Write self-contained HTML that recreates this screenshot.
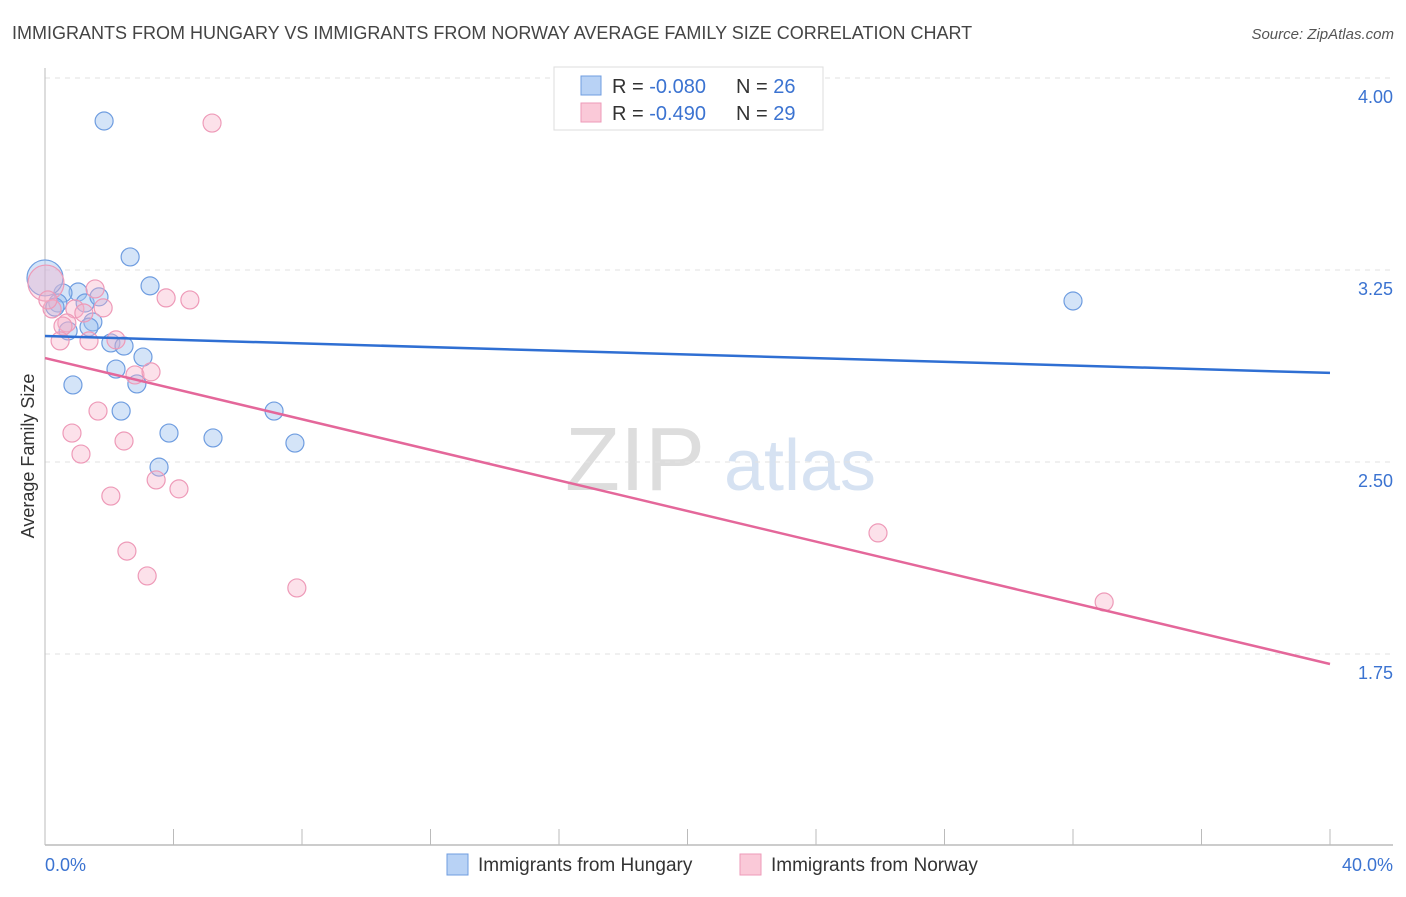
<!DOCTYPE html>
<html><head><meta charset="utf-8"><style>
body{margin:0;background:#fff;font-family:"Liberation Sans",sans-serif;}
svg text{font-family:"Liberation Sans",sans-serif;}
</style></head><body>
<svg id="chart" width="1406" height="892" xmlns="http://www.w3.org/2000/svg">
<text x="12" y="39" font-size="18" fill="#444">IMMIGRANTS FROM HUNGARY VS IMMIGRANTS FROM NORWAY AVERAGE FAMILY SIZE CORRELATION CHART</text>
<text x="1394" y="39" font-size="15" fill="#555" font-style="italic" text-anchor="end">Source: ZipAtlas.com</text>
<g>
<text x="635" y="490" font-size="90" fill="#ddd" font-family="Liberation Serif" text-anchor="middle">ZIP</text>
<text x="800" y="490" font-size="72" fill="#d6e2f2" text-anchor="middle">atlas</text>
</g>
<g id="grid"></g>
<g id="axes"></g>
<g id="marks"></g>
<text transform="translate(34,456) rotate(-90)" font-size="18" fill="#333" text-anchor="middle">Average Family Size</text>
<g>
<rect x="554" y="67" width="269" height="63" fill="#fff" stroke="#ddd"/>
<rect x="581" y="76" width="20" height="19" fill="#b8d2f5" stroke="#6f9de0"/>
<rect x="581" y="103" width="20" height="19" fill="#fac9d8" stroke="#ee9ab8"/>
<text x="612" y="93" font-size="20" fill="#333">R = <tspan fill="#3b73d1">-0.080</tspan><tspan x="736">N = </tspan><tspan fill="#3b73d1">26</tspan></text>
<text x="612" y="120" font-size="20" fill="#333">R = <tspan fill="#3b73d1">-0.490</tspan><tspan x="736">N = </tspan><tspan fill="#3b73d1">29</tspan></text>
</g>
<g>
<rect x="447" y="854" width="21" height="21" fill="#b8d2f5" stroke="#6f9de0"/>
<text x="478" y="871" font-size="19" fill="#333">Immigrants from Hungary</text>
<rect x="740" y="854" width="21" height="21" fill="#fac9d8" stroke="#ee9ab8"/>
<text x="771" y="871" font-size="19" fill="#333">Immigrants from Norway</text>
</g>
</svg>
<script>
const yTicks=[4.00,3.25,2.50,1.75];
const yTickLabels=["4.00","3.25","2.50","1.75"];
const xTickCount=10;
const xLabels=["0.0%","40.0%"];
const hungaryX=[1.84,2.65,3.27,1.03,0.56,0.40,1.25,1.68,0.31,1.49,1.37,0.72,2.05,2.46,3.05,2.21,2.86,0.87,2.37,7.13,3.86,5.23,7.78,3.55,32.0,0.0];
const hungaryY=[3.832,3.301,3.188,3.164,3.160,3.121,3.121,3.145,3.105,3.047,3.027,3.012,2.965,2.953,2.910,2.863,2.805,2.801,2.699,2.699,2.613,2.594,2.574,2.480,3.129,3.219];
const hungaryBig=[25];
const norwayX=[5.20,0.03,1.56,3.77,4.51,1.81,0.93,0.22,1.21,0.68,0.56,2.21,1.37,0.47,2.80,3.30,1.65,0.84,2.46,1.12,2.05,3.46,4.17,2.55,3.18,7.84,25.93,32.97,0.09];
const norwayY=[3.824,3.199,3.176,3.141,3.133,3.102,3.098,3.098,3.082,3.043,3.031,2.977,2.973,2.973,2.840,2.852,2.699,2.613,2.582,2.531,2.367,2.430,2.395,2.152,2.055,2.008,2.223,1.953,3.133];
const norwayBig=[1];
const hungaryTrend=[2.992,2.848];
const norwayTrend=[2.906,1.711];

const NS="http://www.w3.org/2000/svg";
const X=v=>45+(v/40)*1285;
const Y=v=>78+(4-v)*256;
function mk(tag,attrs,parent){const e=document.createElementNS(NS,tag);for(const k in attrs)e.setAttribute(k,attrs[k]);document.getElementById(parent).appendChild(e);return e;}
yTicks.forEach((t,i)=>{
 const l=mk('line',{x1:45,x2:1393,y1:Y(t),y2:Y(t),stroke:'#e2e2e2','stroke-dasharray':'5,5'},'grid');
 
 
 const tx=mk('text',{x:1393,y:Y(t)+25,'font-size':18,fill:'#3b73d1','text-anchor':'end'},'axes');
 tx.textContent=yTickLabels[i];
 
 
});
const ya=mk('line',{x1:45,x2:45,y1:68,y2:845,stroke:'#bbb'},'axes');


const xa=mk('line',{x1:45,x2:1393,y1:845,y2:845,stroke:'#bbb','stroke-width':1.5},'axes');


for(let i=0;i<=xTickCount;i++){
 const v=i*40/xTickCount;
 const t=mk('line',{x1:X(v),x2:X(v),y1:829,y2:845,stroke:'#bbb'},'axes');
 
 
}
[[0,'start',xLabels[0]],[40,'end',xLabels[1]]].forEach(([v,a,s])=>{
 const t=mk('text',{x:a==='start'?X(v):1393,y:871,'font-size':18,fill:'#3b73d1','text-anchor':a},'axes');
 t.textContent=s;
 
 
});
function pts(xs,ys,big,fill,stroke,name){
 xs.forEach((x,i)=>{
  const c=mk('circle',{cx:X(x),cy:Y(ys[i]),r:big.includes(i)?18:9,fill:fill,stroke:stroke,'stroke-width':1.2},'marks');
  
  
 });
}
pts(hungaryX,hungaryY,hungaryBig,'rgba(160,195,240,0.45)','#6f9de0','hungary-point');
pts(norwayX,norwayY,norwayBig,'rgba(247,175,200,0.38)','#ee9ab8','norway-point');
const tb=mk('line',{x1:X(0),y1:Y(hungaryTrend[0]),x2:X(40),y2:Y(hungaryTrend[1]),stroke:'#2f6fd3','stroke-width':2.5},'marks');


const tp=mk('line',{x1:X(0),y1:Y(norwayTrend[0]),x2:X(40),y2:Y(norwayTrend[1]),stroke:'#e4679a','stroke-width':2.5},'marks');


</script>
</body></html>
